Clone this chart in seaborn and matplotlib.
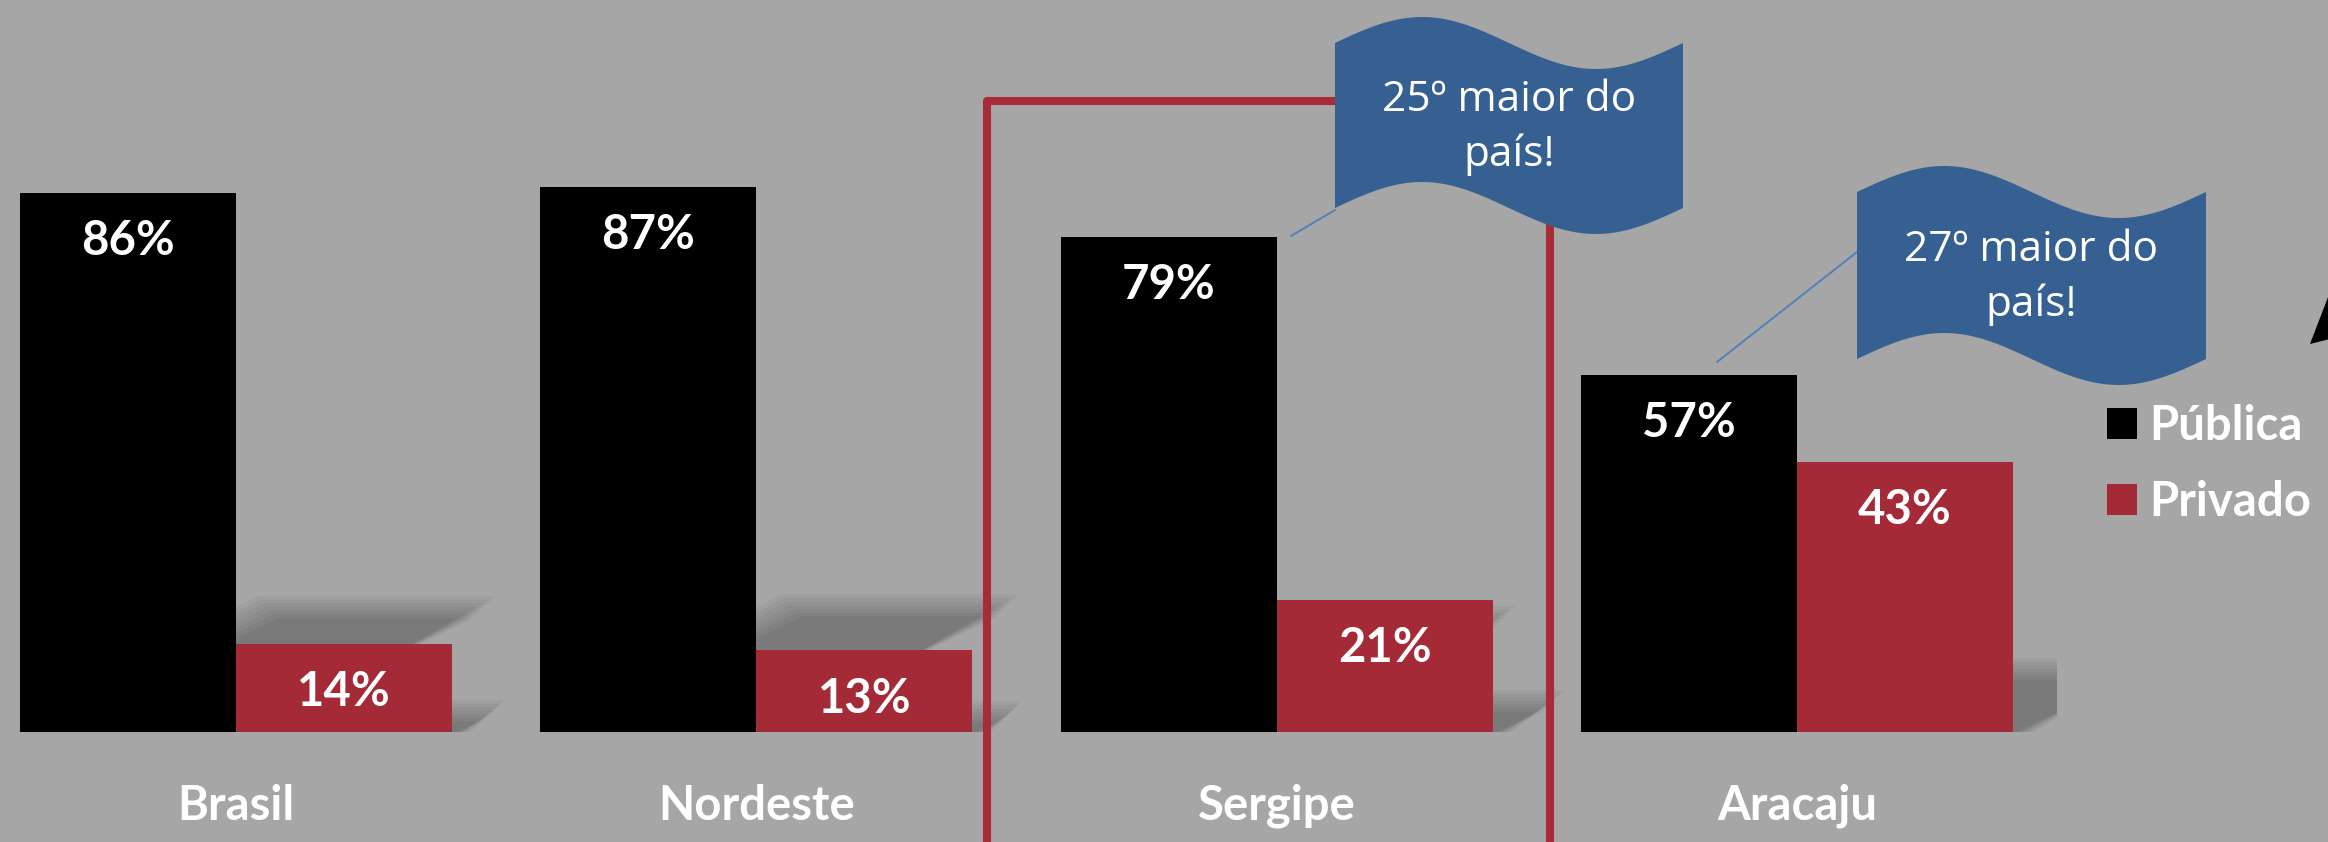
import numpy as np
import pandas as pd
import matplotlib
matplotlib.use("Agg")
import matplotlib.pyplot as plt
from matplotlib.patches import Polygon
import seaborn as sns

# data
regioes = ['Brasil', 'Nordeste', 'Sergipe', 'Aracaju']
publica = [86, 87, 79, 57]
privado = [14, 13, 21, 43]
tipos = ['Pública', 'Privado']
flag_texts = ['25º maior do\npaís!', '27º maior do\npaís!']

BG = '#a6a6a6'
RED = '#a52a37'
BLUE = '#366092'

sns.set_style("white")
plt.rcParams['font.family'] = ['Lato', 'DejaVu Sans']

df = pd.DataFrame({'regiao': regioes, 'Pública': publica, 'Privado': privado})
df = df.melt(id_vars='regiao', value_vars=tipos, var_name='tipo', value_name='valor')

W, H = 2328, 842
fig = plt.figure(figsize=(W / 100, H / 100), dpi=100, facecolor=BG)


def fx(px):
    return px / W


def fy(py):
    return 1 - py / H


# plot area: categories -0.5..3.5, 0..100 %
ax = fig.add_axes([fx(-24), fy(732), 2081 / W, 627 / H])
ax.set_facecolor(BG)

sns.barplot(data=df, x='regiao', y='valor', hue='tipo', hue_order=tipos,
            palette=['black', RED], saturation=1, width=0.83, gap=0,
            errorbar=None, linewidth=0, ax=ax, zorder=3)

ax.set_xlim(-0.5, 3.5)
ax.set_ylim(0, 100)
ax.set_xlabel('')
ax.set_ylabel('')
ax.set_xticks([])
ax.set_yticks([])
sns.despine(ax=ax, left=True, bottom=True)

# soft perspective shadows behind bars
px_x = 2081 / 4.0   # px per category unit
px_y = 6.27         # px per percent
for cont in ax.containers:
    for bar in cont:
        x0 = bar.get_x()
        x1 = x0 + bar.get_width()
        s = 0.23 * bar.get_height()
        shift = 2 * s * px_y / px_x
        for d in np.linspace(-10, 12, 7):
            dx = d / px_x
            dy = d / px_y
            pts = [(x0 - dx, -1), (x1 + dx, -1),
                   (x1 + shift + dx, s + dy), (x0 + shift - dx, s + dy)]
            ax.add_patch(Polygon(pts, closed=True, facecolor='black',
                                 edgecolor='none', alpha=0.04, zorder=1))

# value labels inside bars
for cont in ax.containers:
    for bar in cont:
        h = bar.get_height()
        ax.text(bar.get_x() + bar.get_width() / 2, h - 9.9, f'{h:.0f}%',
                ha='center', va='baseline', color='white', fontsize=34,
                fontweight='bold', zorder=5)

# category labels
for i, r in enumerate(regioes):
    ax.text(i, -14.0, r, ha='center', va='baseline', color='white',
            fontsize=34, fontweight='bold', clip_on=False)

# legend
sns.move_legend(ax, 'center left', bbox_to_anchor=(fx(2107), fy(464)),
                bbox_transform=fig.transFigure, frameon=False, title=None,
                prop={'weight': 'bold', 'size': 34}, labelcolor='white',
                handlelength=0.64, handleheight=0.64, handletextpad=0.25,
                labelspacing=0.68, borderpad=0, borderaxespad=0)

# red frame around Sergipe
fig.add_artist(plt.Line2D([fx(987), fx(987), fx(1550), fx(1550)],
                          [fy(850), fy(101), fy(101), fy(850)],
                          color='#aa2b38', lw=5.8, solid_joinstyle='round',
                          transform=fig.transFigure, zorder=2))


def flag(left, right, top, bottom, text, amp=26):
    t = np.linspace(0, 1, 80)
    xs = left + t * (right - left)
    wave = amp * np.sin(2 * np.pi * t)
    top_pts = [(fx(x), fy(top - w)) for x, w in zip(xs, wave)]
    bot_pts = [(fx(x), fy(bottom - w)) for x, w in zip(xs, wave)][::-1]
    fig.add_artist(Polygon(top_pts + bot_pts, closed=True, facecolor=BLUE,
                           edgecolor='none', transform=fig.transFigure, zorder=4))
    fig.text(fx((left + right) / 2), fy((top + bottom) / 2 + 2), text,
             ha='center', va='center', color='white', fontsize=30.5,
             family=['Open Sans', 'DejaVu Sans'], linespacing=1.4, zorder=5)


# connectors then flags
fig.add_artist(plt.Line2D([fx(1291), fx(1335)], [fy(236), fy(210)],
                          color='#4f81bd', lw=1.4, transform=fig.transFigure, zorder=3))
fig.add_artist(plt.Line2D([fx(1717), fx(1857)], [fy(362), fy(252)],
                          color='#4f81bd', lw=1.4, transform=fig.transFigure, zorder=3))
flag(1335, 1683, 43, 208, flag_texts[0])
flag(1857, 2206, 192, 359, flag_texts[1])

# arrow tip cut off at right edge
fig.add_artist(Polygon([(fx(2310), fy(344)), (fx(2330), fy(292)), (fx(2330), fy(339))],
                       closed=True, facecolor='black', edgecolor='none',
                       transform=fig.transFigure, zorder=4))

fig.savefig('out.png', dpi=100, facecolor=BG)
